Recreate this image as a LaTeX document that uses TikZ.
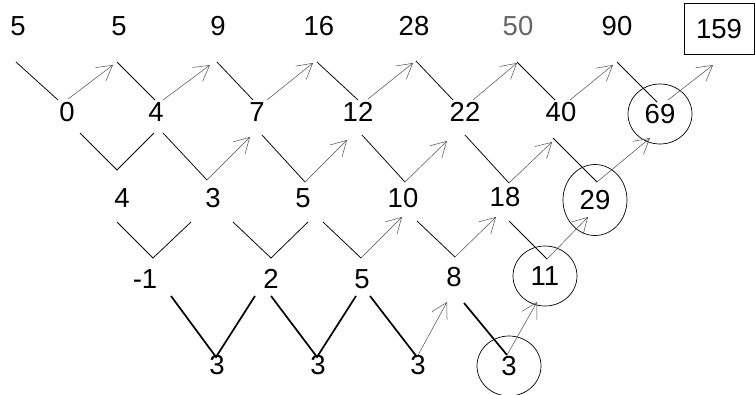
\documentclass[tikz,border=0pt]{standalone}
\usepackage{fontspec}
\setmainfont{Liberation Sans}
\usetikzlibrary{arrows.meta,calc,shapes.geometric}

\begin{document}
\begin{tikzpicture}[
  x=1pt, y=-1pt,
  num/.style={inner sep=0pt, font=\fontsize{27.5}{31}\selectfont},
  ring/.style={
    num, ellipse, draw, line width=0.7pt,
    minimum width=64, minimum height=60},
  total/.style={
    num, rectangle, draw, line width=0.7pt,
    minimum width=70, minimum height=51},
  ln/.style={line width=0.75pt},
  fat/.style={line width=1.7pt},
  arr/.style={line width=0.5pt, black!70,
    -{Straight Barb[length=15pt,width=17pt]}}
]
  \useasboundingbox (0,0) rectangle (755,394);

  %% ── Fila 0: sucesión ─────────────────────────────────────
  \node[num] (a0) at (18,26)  {5};
  \node[num] (a1) at (119,26) {5};
  \node[num] (a2) at (218,26) {9};
  \node[num] (a3) at (319,26) {16};
  \node[num] (a4) at (414,26) {28};
  \node[num, black!60] (a5) at (518,26) {50};
  \node[num] (a6) at (617,26) {90};
  \node[total] (a7) at (719,29) {159};

  %% ── Fila 1: primeras diferencias ─────────────────────────
  \node[num] (b0) at (67,112)  {0};
  \node[num] (b1) at (156,112) {4};
  \node[num] (b2) at (257,112) {7};
  \node[num] (b3) at (358,112) {12};
  \node[num] (b4) at (465,112) {22};
  \node[num] (b5) at (561,112) {40};
  \node[ring] (b6) at (660,114) {69};

  %% ── Fila 2: segundas diferencias ─────────────────────────
  \node[num] (c0) at (122,198) {4};
  \node[num] (c1) at (213,198) {3};
  \node[num] (c2) at (303,198) {5};
  \node[num] (c3) at (403,198) {10};
  \node[num] (c4) at (505,197) {18};
  \node[ring, minimum height=71] (c5) at (595,200) {29};

  %% ── Fila 3: terceras diferencias ─────────────────────────
  \node[num] (d0) at (145,279) {-1};
  \node[num] (d1) at (271,279) {2};
  \node[num] (d2) at (362,279) {5};
  \node[num] (d3) at (454,277) {8};
  \node[ring] (d4) at (545,276) {11};

  %% ── Fila 4: cuartas diferencias ──────────────────────────
  \node[num] (e0) at (217,365) {3};
  \node[num] (e1) at (318,365) {3};
  \node[num] (e2) at (418,365) {3};
  \node[ring] (e3) at (509,366) {3};

  %% ── Fila 0 - fila 1 ──────────────────────────────────────
  \draw[ln] ($(a0)+(-2,36)$) -- ($(b0)+(-9,-12)$);
  \draw[arr] ($(b0)+(1,-13)$) -- ($(a1)+(-6,39)$);
  \draw[ln] ($(a1)+(-2,36)$) -- ($(b1)+(-1,-12)$);
  \draw[arr] ($(b1)+(7,-12)$) -- ($(a2)+(-8,39)$);
  \draw[ln] ($(a2)+(-1,36)$) -- ($(b2)+(-4,-12)$);
  \draw[arr] ($(b2)+(10,-12)$) -- ($(a3)+(-6,37)$);
  \draw[ln] ($(a3)+(-2,36)$) -- ($(b3)+(0,-12)$);
  \draw[arr] ($(b3)+(10,-13)$) -- ($(a4)+(-1,37)$);
  \draw[ln] ($(a4)+(2,35)$) -- ($(b4)+(-12,-12)$);
  \draw[arr] ($(b4)+(8,-12)$) -- ($(a5)+(-1,37)$);
  \draw[ln] ($(a5)+(-1,36)$) -- ($(b5)+(-6,-12)$);
  \draw[arr] ($(b5)+(9,-12)$) -- ($(a6)+(-4,39)$);
  \draw[ln] ($(a6)+(0,36)$) -- ($(b6)+(-3,-12)$);
  \draw[arr] ($(b6)+(8,-14)$) -- ($(a7)+(-6,36)$);

  %% ── Fila 1 - fila 2 ──────────────────────────────────────
  \draw[ln] ($(b0)+(13,21)$) -- ($(c0)+(-5,-28)$) -- ($(b1)+(-2,21)$);
  \draw[ln] ($(b1)+(7,21)$) -- ($(c1)+(-6,-18)$)
    edge[arr] ($(b2)+(-7,25)$);
  \draw[ln] ($(b2)+(5,23)$) -- ($(c2)+(2,-16)$)
    edge[arr] ($(b3)+(-11,28)$);
  \draw[ln] ($(b3)+(4,23)$) -- ($(c3)+(2,-16)$)
    edge[arr] ($(b4)+(-18,29)$);
  \draw[ln] ($(b4)+(0,23)$) -- ($(c4)+(4,-14)$)
    edge[arr] ($(b5)+(-9,30)$);
  \draw[ln] ($(b5)+(-8,26)$) -- ($(c5)+(2,-18)$)
    edge[arr] ($(b6)+(-10,24)$);

  %% ── Fila 2 - fila 3 ──────────────────────────────────────
  \draw[ln] ($(c0)+(-5,24)$) -- ($(d0)+(8,-21)$) -- ($(c1)+(-22,24)$);
  \draw[ln] ($(c1)+(20,24)$) -- ($(d1)+(0,-21)$) -- ($(c2)+(5,24)$);
  \draw[ln] ($(c2)+(20,24)$) -- ($(d2)+(-1,-21)$)
    edge[arr] ($(c3)+(-1,19)$);
  \draw[ln] ($(c3)+(14,23)$) -- ($(d3)+(1,-20)$)
    edge[arr] ($(c4)+(-9,20)$);
  \draw[ln] ($(c4)+(4,24)$) -- ($(d4)+(2,-17)$)
    edge[arr] ($(c5)+(-7,17)$);

  %% ── Fila 3 - fila 4 (trazo grueso) ───────────────────────
  \draw[fat] ($(d0)+(26,17)$) -- ($(e0)+(-1,-8)$) -- ($(d1)+(-16,17)$);
  \draw[fat] ($(d1)+(0,17)$) -- ($(e1)+(-1,-8)$) -- ($(d2)+(-6,17)$);
  \draw[fat] ($(d2)+(8,17)$) -- ($(e2)+(-1,-8)$)
    edge[arr] ($(d3)+(-7,25)$);
  \draw[fat] ($(d3)+(10,26)$) -- ($(e3)+(-2,-11)$)
    edge[arr] ($(d4)+(-8,26)$);

\end{tikzpicture}
\end{document}
